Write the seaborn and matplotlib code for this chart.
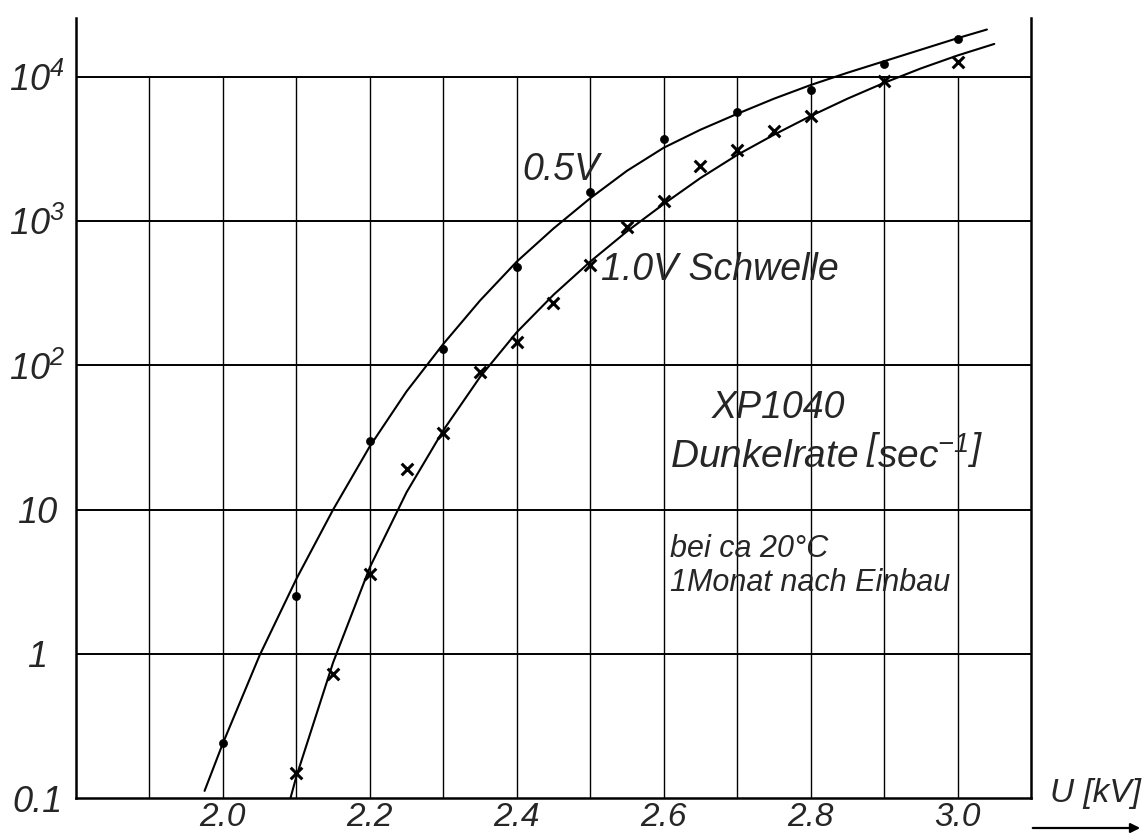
import numpy as np
import pandas as pd
import matplotlib
matplotlib.use("Agg")
import matplotlib.pyplot as plt
import seaborn as sns

# ---- data ----
u_05 = [2.0, 2.1, 2.2, 2.3, 2.4, 2.5, 2.6, 2.7, 2.8, 2.9, 3.0]
rate_05 = [0.24, 2.5, 30, 130, 480, 1600, 3700, 5700, 8200, 12300, 18300]

u_10 = [2.1, 2.15, 2.2, 2.25, 2.3, 2.35, 2.4, 2.45, 2.5, 2.55, 2.6, 2.65, 2.7,
        2.75, 2.8, 2.9, 3.0]
rate_10 = [0.15, 0.73, 3.6, 19, 34, 90, 145, 270, 500, 910, 1380, 2400, 3100,
           4200, 5400, 9400, 12700]

# hand-drawn fit curves
curve_u_05 = [1.975, 2.0, 2.05, 2.1, 2.15, 2.2, 2.25, 2.3, 2.35, 2.4, 2.45,
              2.5, 2.55, 2.6, 2.65, 2.7, 2.75, 2.8, 2.85, 2.9, 2.95, 3.0, 3.04]
curve_rate_05 = [0.112, 0.24, 0.977, 3.31, 10.0, 27.5, 66.1, 141, 282, 525,
                 891, 1445, 2239, 3236, 4315, 5559, 7079, 8810, 10715, 12882,
                 15488, 18621, 21380]
curve_u_10 = [2.092, 2.1, 2.15, 2.2, 2.25, 2.3, 2.35, 2.4, 2.45, 2.5, 2.55,
              2.6, 2.65, 2.7, 2.75, 2.8, 2.85, 2.9, 2.95, 3.0, 3.05]
curve_rate_10 = [0.1, 0.141, 0.871, 3.98, 13.2, 35.5, 83.2, 170, 309, 525,
                 851, 1318, 1995, 2884, 3981, 5370, 7079, 9120, 11482, 14125,
                 16982]

x_ticks = [2.0, 2.2, 2.4, 2.6, 2.8, 3.0]
x_ticklabels = ["2.0", "2.2", "2.4", "2.6", "2.8", "3.0"]
y_ticks = [0.1, 1, 10, 100, 1000, 10000]
y_ticklabels = ["0.1", "1", "10", "$10^2$", "$10^3$", "$10^4$"]
v_grid = [1.9, 2.0, 2.1, 2.2, 2.3, 2.4, 2.5, 2.6, 2.7, 2.8, 2.9, 3.0]
h_grid = [1, 10, 100, 1000, 10000]

# ---- style ----
sns.set_theme(style="white")
FONT = "Liberation Sans"
plt.rcParams["font.family"] = [FONT, "DejaVu Sans"]
plt.rcParams["font.style"] = "italic"
plt.rcParams["mathtext.fontset"] = "custom"
plt.rcParams["mathtext.rm"] = FONT + ":italic"
plt.rcParams["mathtext.it"] = FONT + ":italic"
plt.rcParams["mathtext.sf"] = FONT + ":italic"
plt.rcParams["mathtext.default"] = "rm"

W, H = 1145, 838
fig = plt.figure(figsize=(W / 100, H / 100), dpi=100)
ax = fig.add_axes([76 / W, 1 - 798 / H, (1031 - 76) / W, (798 - 18) / H])

df05 = pd.DataFrame({"U": u_05, "rate": rate_05})
df10 = pd.DataFrame({"U": u_10, "rate": rate_10})
c05 = pd.DataFrame({"U": curve_u_05, "rate": curve_rate_05})
c10 = pd.DataFrame({"U": curve_u_10, "rate": curve_rate_10})

ax.set_yscale("log")
ax.set_xlim(1.8, 3.1)
ax.set_ylim(0.1, 2.57e4)

# grid
ax.vlines(v_grid, 0.1, 1e4, color="black", lw=1.0, zorder=1)
ax.hlines(h_grid, 1.8, 3.1, color="black", lw=1.4, zorder=1)

sns.lineplot(data=c05, x="U", y="rate", ax=ax, color="black", lw=1.5,
             sort=False, estimator=None, zorder=3)
sns.lineplot(data=c10, x="U", y="rate", ax=ax, color="black", lw=1.5,
             sort=False, estimator=None, zorder=3)
sns.scatterplot(data=df05, x="U", y="rate", ax=ax, color="black", s=34,
                marker="o", edgecolor="black", zorder=4)
sns.scatterplot(data=df10, x="U", y="rate", ax=ax, color="black", s=70,
                marker="x", linewidth=2.2, zorder=4)

# axes & ticks
ax.set_xlabel("")
ax.set_ylabel("")
ax.set_xticks(x_ticks)
ax.set_xticklabels(x_ticklabels, fontsize=24, style="italic")
ax.set_yticks(y_ticks)
ax.set_yticklabels(y_ticklabels, fontsize=26, style="italic")
ax.minorticks_off()
ax.tick_params(axis="x", length=0, pad=3)
ax.tick_params(axis="y", length=0, pad=28)
for lab in ax.get_yticklabels():
    lab.set_horizontalalignment("center")
for s in ["left", "bottom", "right"]:
    ax.spines[s].set_visible(True)
    ax.spines[s].set_color("black")
    ax.spines[s].set_linewidth(1.8)
ax.spines["top"].set_visible(False)

# annotations
ax.text(2.407, 2265, "0.5V", fontsize=27, ha="left", va="center")
ax.text(2.515, 460, "1.0V Schwelle", fontsize=27, ha="left", va="center")
ax.text(2.666, 51, "XP1040", fontsize=27, ha="left", va="center")
ax.text(2.609, 23.6, r"Dunkelrate$\;\left[\mathrm{sec}^{-1}\right]$",
        fontsize=28, ha="left", va="center")
ax.text(2.609, 5.3, "bei ca 20°C", fontsize=22, ha="left", va="center")
ax.text(2.609, 3.1, "1Monat nach Einbau", fontsize=22, ha="left", va="center")

fig.text(1095 / W, 1 - 793 / H, "U [kV]", fontsize=24, ha="center",
         va="center", style="italic")
ax.annotate("", xy=(1143 / W, 1 - 828 / H), xytext=(1030 / W, 1 - 828 / H),
            xycoords="figure fraction", textcoords="figure fraction",
            arrowprops=dict(arrowstyle="-|>", lw=1.6, color="black",
                            mutation_scale=14), annotation_clip=False)

fig.savefig("out.png", dpi=100, facecolor="white")
